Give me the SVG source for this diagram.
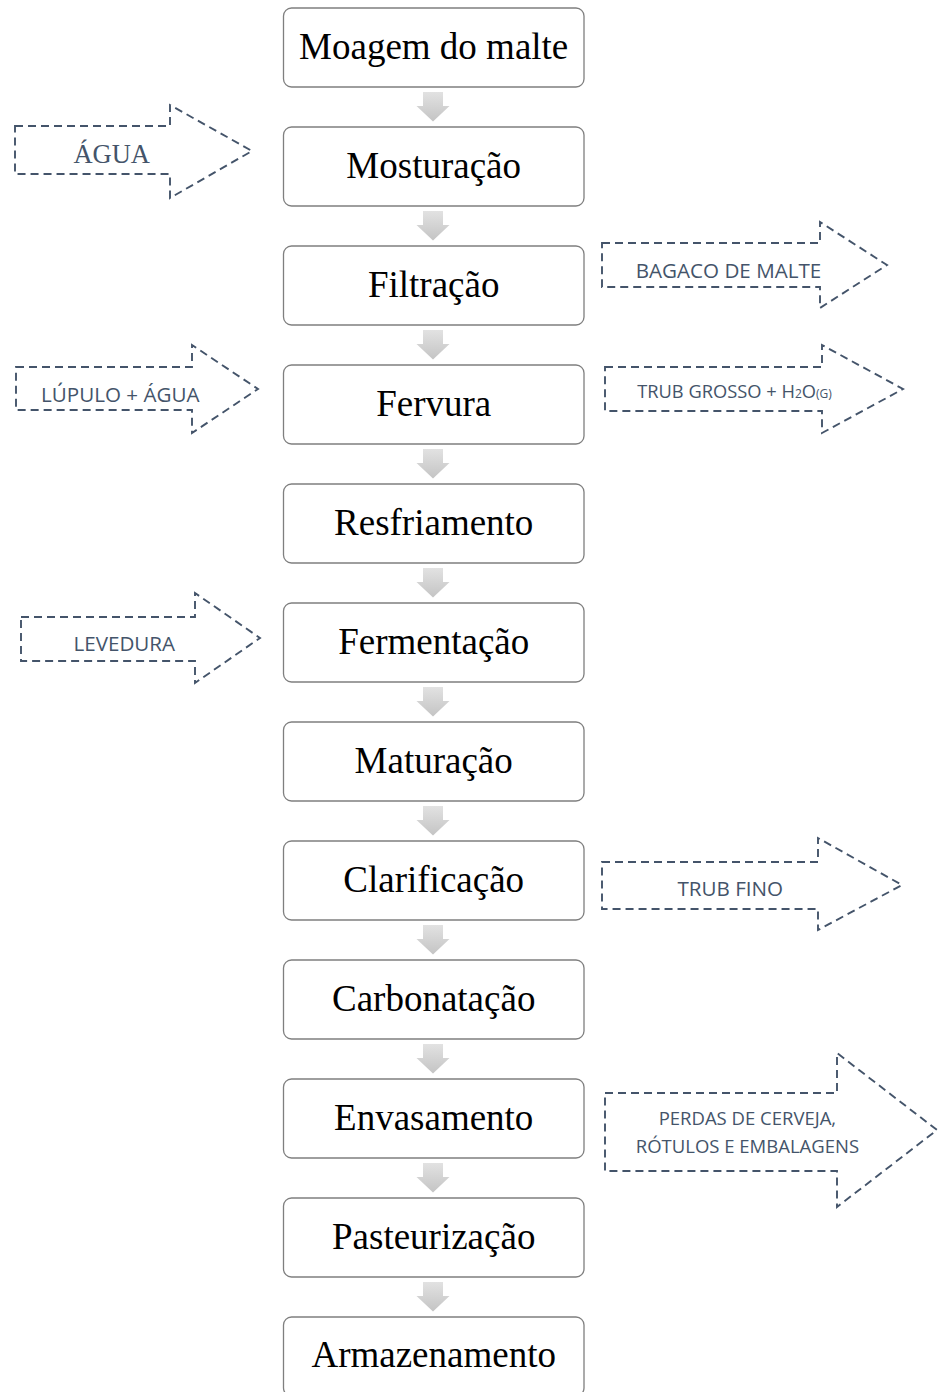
<svg xmlns="http://www.w3.org/2000/svg" xmlns:xlink="http://www.w3.org/1999/xlink" width="939" height="1392" viewBox="0 0 939 1392">
<style>
.box{fill:#ffffff;stroke:#7f7f7f;stroke-width:1.3}
.lbl{font-family:"Liberation Serif","Times New Roman",serif;font-size:37px;fill:#000000;text-anchor:middle}
.side{fill:none;stroke:#44546A;stroke-width:1.9;stroke-dasharray:8 5}
.st{font-family:"Open Sans","Noto Sans",sans-serif;fill:#44546A;text-anchor:middle}
.sts{font-family:"Liberation Serif","Times New Roman",serif;fill:#44546A;text-anchor:middle}
.flow{fill:url(#g)}
</style>
<defs>
<linearGradient id="g" x1="0" y1="0" x2="0" y2="1">
<stop offset="0" stop-color="#e2e2e2"/>
<stop offset="1" stop-color="#c4c4c4"/>
</linearGradient>
<path id="dn" d="M423,5 H443 V19 H449.5 L433,34.5 L416.5,19 H423 Z"/>
</defs>
<rect width="939" height="1392" fill="#ffffff"/>

<g id="connectors">
<use xlink:href="#dn" class="flow" transform="translate(0,87)"/>
<use xlink:href="#dn" class="flow" transform="translate(0,206)"/>
<use xlink:href="#dn" class="flow" transform="translate(0,325)"/>
<use xlink:href="#dn" class="flow" transform="translate(0,444)"/>
<use xlink:href="#dn" class="flow" transform="translate(0,563)"/>
<use xlink:href="#dn" class="flow" transform="translate(0,682)"/>
<use xlink:href="#dn" class="flow" transform="translate(0,801)"/>
<use xlink:href="#dn" class="flow" transform="translate(0,920)"/>
<use xlink:href="#dn" class="flow" transform="translate(0,1039)"/>
<use xlink:href="#dn" class="flow" transform="translate(0,1158)"/>
<use xlink:href="#dn" class="flow" transform="translate(0,1277)"/>
</g>

<g id="n1"><rect class="box" x="283.5" y="8" width="300.5" height="79" rx="8"/><text class="lbl" x="433.7" y="59">Moagem do malte</text></g>
<g id="n2"><rect class="box" x="283.5" y="127" width="300.5" height="79" rx="8"/><text class="lbl" x="433.7" y="177.5">Mosturação</text></g>
<g id="n3"><rect class="box" x="283.5" y="246" width="300.5" height="79" rx="8"/><text class="lbl" x="433.7" y="296.5">Filtração</text></g>
<g id="n4"><rect class="box" x="283.5" y="365" width="300.5" height="79" rx="8"/><text class="lbl" x="433.7" y="415.5">Fervura</text></g>
<g id="n5"><rect class="box" x="283.5" y="484" width="300.5" height="79" rx="8"/><text class="lbl" x="433.7" y="534.5">Resfriamento</text></g>
<g id="n6"><rect class="box" x="283.5" y="603" width="300.5" height="79" rx="8"/><text class="lbl" x="433.7" y="653.5">Fermentação</text></g>
<g id="n7"><rect class="box" x="283.5" y="722" width="300.5" height="79" rx="8"/><text class="lbl" x="433.7" y="772.5">Maturação</text></g>
<g id="n8"><rect class="box" x="283.5" y="841" width="300.5" height="79" rx="8"/><text class="lbl" x="433.7" y="891.5">Clarificação</text></g>
<g id="n9"><rect class="box" x="283.5" y="960" width="300.5" height="79" rx="8"/><text class="lbl" x="433.7" y="1010.5">Carbonatação</text></g>
<g id="n10"><rect class="box" x="283.5" y="1079" width="300.5" height="79" rx="8"/><text class="lbl" x="433.7" y="1129.5">Envasamento</text></g>
<g id="n11"><rect class="box" x="283.5" y="1198" width="300.5" height="79" rx="8"/><text class="lbl" x="433.7" y="1248.5">Pasteurização</text></g>
<g id="n12"><rect class="box" x="283.5" y="1317" width="300.5" height="79" rx="8"/><text class="lbl" x="433.7" y="1367">Armazenamento</text></g>

<g id="in-agua">
<path class="side" d="M15,126 H170 V105 L252,151 L170,198 V174 H15 Z"/>
<text class="sts" x="111.7" y="162.7" font-size="26.5">ÁGUA</text>
</g>
<g id="out-bagaco">
<path class="side" d="M602,243 H820 V222 L887,265 L820,308 V287 H602 Z"/>
<text class="st" x="728.5" y="278.3" font-size="20.6">BAGACO DE MALTE</text>
</g>
<g id="in-lupulo">
<path class="side" d="M16,367 H192 V345 L258,389 L192,433 V410 H16 Z"/>
<text class="st" x="120.3" y="401.5" font-size="20.6">LÚPULO + ÁGUA</text>
</g>
<g id="out-trub-grosso">
<path class="side" d="M605,367 H822 V345 L903,389 L822,433 V411 H605 Z"/>
<text class="st" x="734.5" y="398.3" font-size="18.3">TRUB GROSSO + H<tspan font-size="12">2</tspan>O<tspan font-size="12">(G)</tspan></text>
</g>
<g id="in-levedura">
<path class="side" d="M21,617 H195 V593 L260,638 L195,683 V661 H21 Z"/>
<text class="st" x="124.3" y="650.7" font-size="20.6">LEVEDURA</text>
</g>
<g id="out-trub-fino">
<path class="side" d="M602,862 H818 V838 L902,885 L818,930 V909 H602 Z"/>
<text class="st" x="730.3" y="896" font-size="20.6">TRUB FINO</text>
</g>
<g id="out-perdas">
<path class="side" d="M605,1093 H837 V1053 L937,1130 L837,1207 V1171 H605 Z"/>
<text class="st" x="747.4" y="1125" font-size="18.5">PERDAS DE CERVEJA,</text>
<text class="st" x="747.4" y="1153.3" font-size="18.5">RÓTULOS E EMBALAGENS</text>
</g>
</svg>
